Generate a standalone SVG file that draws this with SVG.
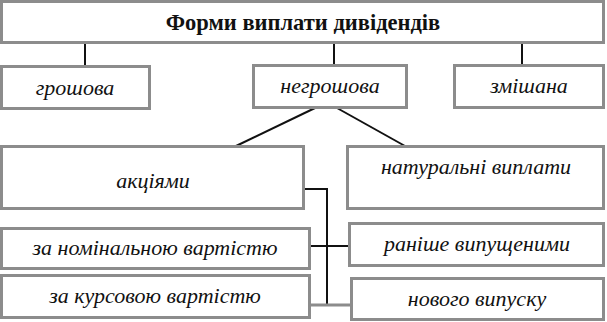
<svg xmlns="http://www.w3.org/2000/svg" width="607" height="322" viewBox="0 0 607 322">
<style>
.box{fill:#fff;stroke:#8c8c8c;stroke-width:3}
.t{font-family:"Liberation Serif","DejaVu Serif",serif;font-size:22px;font-style:italic;text-anchor:middle;fill:#111}
.tb{font-family:"Liberation Serif","DejaVu Serif",serif;font-size:22.5px;font-weight:bold;text-anchor:middle;fill:#111}
.c{stroke:#111;stroke-width:2;fill:none}
</style>
<rect width="607" height="322" fill="#fff"/>
<g id="connectors">
<line class="c" x1="85" y1="44" x2="85" y2="66"/>
<line class="c" x1="334" y1="44" x2="334" y2="65"/>
<line class="c" x1="522" y1="44" x2="522" y2="65"/>
<line class="c" x1="315" y1="108" x2="236" y2="146"/>
<line class="c" x1="337" y1="108" x2="405" y2="146"/>
<polyline class="c" points="304,189 327,189 327,305"/>
<line class="c" x1="311" y1="246" x2="348" y2="246"/>
<line x1="311" y1="305" x2="351" y2="305" stroke="#8c8c8c" stroke-width="3"/>
</g>
<g id="title"><rect class="box" x="1.5" y="1.5" width="602" height="41"/><text class="tb" x="303" y="30">Форми виплати дивідендів</text></g>
<g id="groshova"><rect class="box" x="1.5" y="66.5" width="148" height="42"/><text class="t" x="75" y="95">грошова</text></g>
<g id="negroshova"><rect class="box" x="253.5" y="65.5" width="153" height="42"/><text class="t" x="330" y="93">негрошова</text></g>
<g id="zmishana"><rect class="box" x="454.5" y="65.5" width="149" height="42"/><text class="t" x="529" y="93">змішана</text></g>
<g id="aktsiyamy"><rect class="box" x="1.5" y="146.5" width="302" height="62"/><text class="t" x="153" y="188">акціями</text></g>
<g id="naturalni"><rect class="box" x="347.5" y="146.5" width="256" height="62"/><text class="t" x="476" y="174">натуральні виплати</text></g>
<g id="nominal"><rect class="box" x="1.5" y="228.5" width="308" height="40"/><text class="t" x="155" y="255">за номінальною вартістю</text></g>
<g id="ranishe"><rect class="box" x="349.5" y="223.5" width="254" height="42"/><text class="t" x="477" y="251">раніше випущеними</text></g>
<g id="kursova"><rect class="box" x="1.5" y="275.5" width="308" height="42"/><text class="t" x="155" y="303">за курсовою вартістю</text></g>
<g id="novoho"><rect class="box" x="351.5" y="278.5" width="252" height="41"/><text class="t" x="477" y="306">нового випуску</text></g>
</svg>
